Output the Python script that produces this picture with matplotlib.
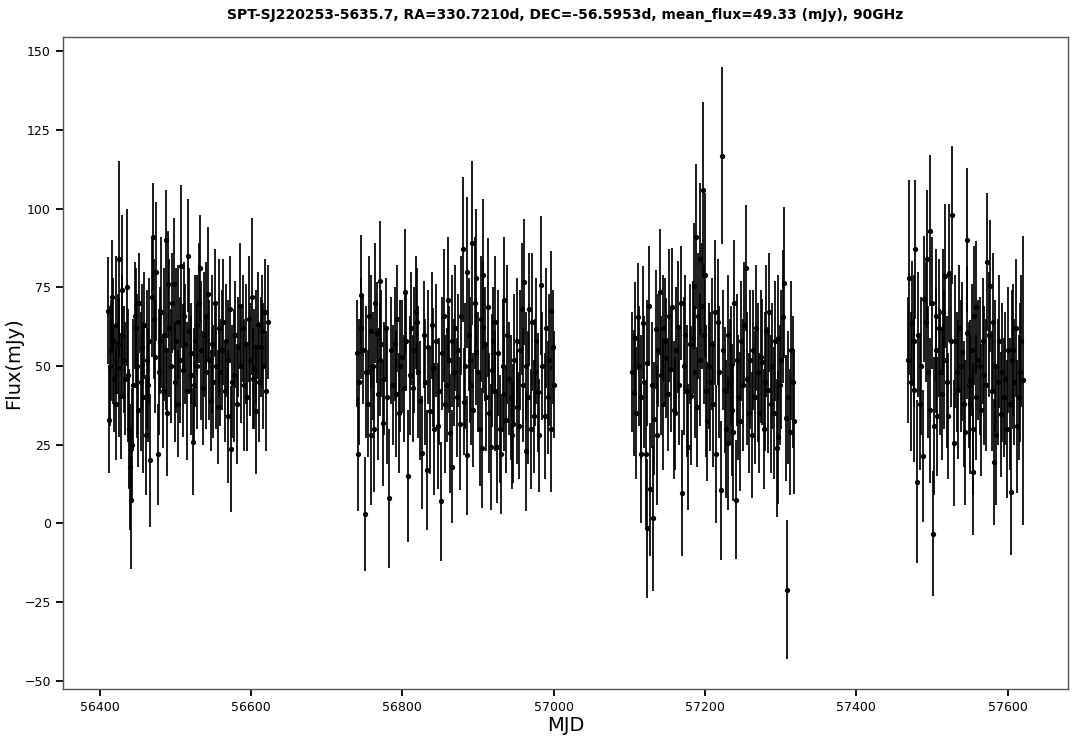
import matplotlib
matplotlib.use('Agg')
import matplotlib.pyplot as plt
import numpy as np

title = 'SPT-SJ220253-5635.7, RA=330.7210d, DEC=-56.5953d, mean_flux=49.33 (mJy), 90GHz'

# season 1
mjd1 = [56411, 56412, 56413, 56415, 56416, 56418, 56419, 56421, 56422, 56424,
        56425, 56426, 56428, 56429, 56430, 56432, 56434, 56436, 56437, 56439,
        56440, 56441, 56443, 56444, 56446, 56448, 56449, 56451, 56452, 56454,
        56456, 56457, 56459, 56461, 56462, 56464, 56465, 56467, 56469, 56471,
        56472, 56473, 56475, 56477, 56478, 56480, 56481, 56483, 56485, 56487,
        56488, 56489, 56490, 56492, 56494, 56496, 56498, 56499, 56501, 56503,
        56504, 56506, 56508, 56510, 56511, 56513, 56515, 56516, 56518, 56520,
        56521, 56523, 56524, 56526, 56528, 56529, 56531, 56532, 56534, 56536,
        56538, 56540, 56541, 56543, 56545, 56547, 56548, 56550, 56552, 56554,
        56556, 56557, 56559, 56561, 56563, 56565, 56567, 56569, 56570, 56572,
        56574, 56575, 56577, 56579, 56581, 56583, 56585, 56587, 56589, 56591,
        56593, 56595, 56597, 56599, 56601, 56603, 56604, 56606, 56607, 56609,
        56611, 56613, 56614, 56616, 56618, 56620, 56622]
flux1 = [67.6, 33, 50, 55, 72, 58, 46, 63, 38, 57,
         84, 49.5, 40.6, 74, 60, 52, 46, 75, 47, 30,
         18, 7.6, 25, 44, 66, 62, 50, 36, 70, 45,
         56, 40, 63, 28, 52, 44, 58, 20, 72, 91,
         65, 53, 80, 22, 48, 58, 67, 42, 60, 90,
         55, 35, 76, 62, 50, 70, 76, 45, 58, 38,
         64, 52, 81.6, 48.6, 66, 57, 42, 85, 61, 54,
         47, 26, 44, 58, 63, 50, 70, 81, 55, 43,
         60, 48, 66, 73, 52, 39, 57, 45, 70, 50,
         37, 62, 48, 55, 64, 42, 58, 34, 52, 68,
         23.5, 45, 47, 60, 38, 56, 69, 50, 62, 44,
         57, 40, 65, 52, 72, 46, 49, 35.6, 56, 63,
         45, 56, 61, 50, 67, 42, 64]
err1 = [17, 17, 19, 16, 18, 20, 17, 22, 18, 16,
        31, 22, 20, 24, 19, 17, 18, 25, 21, 19,
        20, 22, 18, 21, 17, 19, 23, 18, 16, 22,
        20, 24, 17, 19, 22, 18, 20, 21, 19, 17,
        19, 18, 22, 16, 20, 17, 24, 18, 21, 16,
        19, 20, 17, 22, 18, 16, 21, 19, 23, 17,
        18, 20, 26, 21, 17, 19, 22, 18, 20, 16,
        19, 17, 18, 21, 16, 20, 19, 17, 22, 18,
        20, 18, 17, 21, 19, 16, 22, 18, 17, 20,
        18, 22, 17, 19, 20, 16, 18, 21, 19, 17,
        20, 18, 21, 17, 19, 16, 20, 18, 17, 21,
        19, 17, 20, 18, 25, 16, 19, 20, 18, 17,
        19, 16, 18, 20, 17, 19, 18]

# season 2
mjd2 = [56740, 56741, 56743, 56745, 56746, 56748, 56750, 56752, 56754, 56756,
        56758, 56759, 56761, 56762, 56764, 56766, 56768, 56770, 56771, 56772,
        56774, 56776, 56778, 56780, 56783, 56785, 56787, 56790, 56791, 56793,
        56795, 56797, 56800, 56802, 56803, 56805, 56808, 56810, 56812, 56814,
        56816, 56818, 56819, 56821, 56823, 56826, 56828, 56830, 56833, 56834,
        56837, 56839, 56840, 56842, 56844, 56847, 56849, 56851, 56853, 56855,
        56857, 56859, 56860, 56862, 56863, 56865, 56866, 56868, 56870, 56872,
        56874, 56876, 56878, 56880, 56882, 56883, 56885, 56886, 56888, 56889,
        56891, 56892, 56894, 56896, 56897, 56898, 56900, 56902, 56904, 56905,
        56906, 56907, 56909, 56911, 56913, 56915, 56917, 56918, 56920, 56922,
        56923, 56925, 56927, 56929, 56931, 56933, 56934, 56935, 56937, 56939,
        56941, 56943, 56945, 56946, 56948, 56951, 56952, 56954, 56956, 56958,
        56960, 56961, 56963, 56964, 56966, 56968, 56970, 56972, 56974, 56976,
        56977, 56979, 56981, 56983, 56985, 56988, 56990, 56992, 56994, 56996,
        56997, 56999, 57000]
flux2 = [54, 22, 45, 62, 72.7, 55, 3, 48, 38, 66,
         61, 28, 50, 30, 70, 60.6, 41, 52, 77, 57,
         32, 46, 62, 40, 8, 55, 44, 57, 41, 65,
         35, 50, 53, 43, 73.6, 58, 15, 47, 62, 43,
         55, 67, 64, 48, 39, 22.5, 60, 45, 17, 56,
         35.6, 63, 49.5, 30, 58, 31, 42, 7, 54, 66,
         38, 44, 71, 52, 28.6, 58, 18, 48, 62, 40,
         55, 31.7, 66, 87, 38.7, 50, 21.6, 79.7, 60, 52,
         44, 89, 36, 70, 54.6, 78, 48, 30, 65, 24,
         62.5, 79, 57, 40, 68.6, 35, 24.4, 48.6, 58, 64,
         42, 24.4, 54, 30, 22, 50, 41, 71, 33, 60,
         46, 40, 28, 31.7, 52, 37, 58, 31, 55, 68,
         44, 76.8, 23, 50, 40, 68, 30, 64, 34, 48,
         58, 41.6, 28, 75.6, 50, 34, 62, 40, 52, 67.6,
         30, 56, 44]
err2 = [17, 18, 20, 16, 19, 17, 18, 21, 17, 19,
        18, 22, 17, 20, 19, 16, 21, 18, 19, 17,
        20, 18, 16, 21, 22, 17, 19, 18, 20, 17,
        19, 21, 18, 17, 20, 16, 21, 19, 18, 17,
        20, 18, 17, 21, 19, 18, 17, 20, 19, 18,
        20, 17, 19, 21, 18, 20, 17, 19, 18, 21,
        22, 18, 20, 17, 19, 21, 18, 17, 20, 19,
        18, 21, 19, 23, 17, 20, 19, 24, 18, 20,
        19, 26, 18, 21, 17, 22, 19, 18, 20, 19,
        21, 24, 18, 17, 22, 19, 20, 18, 17, 21,
        19, 18, 20, 17, 19, 21, 18, 20, 17, 22,
        18, 20, 17, 19, 21, 18, 20, 17, 19, 21,
        18, 20, 19, 17, 21, 18, 19, 22, 18, 17,
        20, 19, 18, 22, 17, 20, 19, 18, 21, 19,
        20, 18, 17]

# season 3
mjd3 = [57104, 57106, 57107, 57109, 57111, 57113, 57115, 57116, 57118, 57120,
        57122, 57123, 57124, 57126, 57128, 57130, 57131, 57133, 57135, 57137,
        57138, 57140, 57142, 57144, 57145, 57147, 57149, 57151, 57153, 57155,
        57157, 57159, 57160, 57162, 57164, 57166, 57168, 57170, 57172, 57174,
        57176, 57178, 57180, 57182, 57184, 57185, 57187, 57188, 57189, 57191,
        57193, 57194, 57196, 57197, 57199, 57200, 57201, 57203, 57205, 57207,
        57209, 57211, 57213, 57215, 57217, 57219, 57221, 57223, 57224, 57226,
        57228, 57230, 57231, 57233, 57234, 57236, 57237, 57239, 57241, 57243,
        57244, 57246, 57248, 57250, 57252, 57254, 57256, 57258, 57260, 57262,
        57264, 57266, 57268, 57270, 57272, 57274, 57276, 57278, 57280, 57281,
        57283, 57285, 57287, 57289, 57291, 57293, 57295, 57296, 57297, 57299,
        57301, 57303, 57305, 57307, 57309, 57310, 57312, 57314, 57316, 57318]
flux3 = [48, 41.3, 58.8, 35, 65.7, 50, 40, 22.2, 63.8, 45,
         21.9, 51, -1.6, 69, 10.8, 44, 1.6, 33.3, 61.6, 28,
         55, 73.6, 47, 38, 62, 58, 52.5, 41, 66, 49,
         68.6, 36, 35, 55, 62.5, 44, 70, 9.8, 50, 60,
         42, 24.4, 57, 40.6, 59, 75.5, 48, 91, 37, 66,
         52, 84, 69, 106, 60, 79, 42, 32.4, 50, 45,
         57, 38, 67, 22, 64, 48, 10.5, 116.8, 55, 42.5,
         30, 60, 25.4, 45, 50, 36, 29, 70, 7.6, 52,
         40, 32.4, 58, 44, 63, 81, 46, 35, 52, 28,
         55, 40, 62, 48, 35, 53, 51.4, 30, 45, 61,
         42.5, 67, 38, 50, 35, 58, 24, 27.3, 59, 44,
         52, 65.7, 76.5, 33.6, -21, 40, 29, 55, 45, 32.4]
err3 = [19, 20, 18, 21, 17, 19, 20, 22, 18, 21,
        23, 20, 22, 19, 21, 20, 23, 18, 19, 22,
        18, 20, 19, 21, 17, 20, 19, 18, 21, 20,
        19, 22, 18, 20, 21, 19, 18, 20, 22, 19,
        21, 20, 19, 22, 18, 20, 21, 23, 19, 20,
        21, 24, 20, 28, 22, 26, 21, 19, 20, 22,
        21, 20, 23, 22, 20, 21, 22, 28, 19, 20,
        22, 19, 21, 20, 19, 21, 22, 20, 19, 21,
        20, 22, 19, 21, 20, 20, 21, 19, 22, 20,
        19, 21, 20, 22, 19, 21, 20, 19, 22, 21,
        20, 19, 22, 20, 21, 19, 22, 21, 20, 19,
        22, 21, 24, 20, 22, 21, 20, 22, 21, 23]

# season 4
mjd4 = [57469, 57470, 57472, 57474, 57476, 57477, 57478, 57480, 57482, 57484,
        57486, 57488, 57490, 57492, 57493, 57495, 57497, 57498, 57500, 57502,
        57503, 57505, 57506, 57507, 57509, 57511, 57513, 57515, 57516, 57518,
        57520, 57521, 57523, 57525, 57527, 57529, 57531, 57533, 57534, 57536,
        57538, 57540, 57542, 57544, 57546, 57547, 57549, 57550, 57551, 57553,
        57554, 57555, 57556, 57558, 57559, 57561, 57563, 57565, 57567, 57569,
        57571, 57573, 57575, 57577, 57579, 57581, 57582, 57584, 57585, 57587,
        57589, 57591, 57593, 57595, 57597, 57599, 57601, 57603, 57604, 57606,
        57607, 57609, 57611, 57613, 57615, 57616, 57618, 57620]
flux4 = [52, 78, 45, 63.5, 58, 42.5, 87, 13.3, 60, 38,
         50, 21.3, 71.4, 64, 84, 48, 36, 93, 70, -3.2,
         31, 55, 66, 34, 62, 48, 41, 67, 52, 78.6,
         45, 34, 79.6, 58, 98, 25.4, 57.8, 48, 42.5, 62,
         50, 54.6, 38, 29, 90, 60.6, 44, 37.8, 45.7, 55,
         16.2, 30, 66, 40, 68.6, 52, 50, 36, 58, 47,
         44, 83, 60, 75.5, 42, 64, 19.4, 50, 28, 45,
         57.8, 34.6, 48, 40, 46, 30, 55, 38, 10, 52,
         55, 44.8, 62, 30.8, 40, 48, 58, 45.4]
err4 = [20, 31, 22, 20, 21, 23, 22, 26, 20, 21,
        22, 21, 20, 19, 22, 21, 23, 24, 21, 20,
        22, 20, 21, 19, 22, 20, 21, 20, 22, 23,
        21, 20, 22, 21, 22, 20, 21, 19, 22, 20,
        21, 22, 20, 23, 23, 21, 20, 22, 19, 21,
        20, 21, 22, 20, 21, 19, 22, 21, 20, 22,
        21, 22, 20, 21, 19, 22, 20, 21, 22, 20,
        21, 20, 22, 19, 21, 22, 20, 21, 20, 22,
        21, 20, 22, 21, 20, 22, 21, 46]

mjd = np.array(mjd1 + mjd2 + mjd3 + mjd4, dtype=float)
flux = np.array(flux1 + flux2 + flux3 + flux4, dtype=float)
err = np.array(err1 + err2 + err3 + err4, dtype=float)

fig = plt.figure(figsize=(10.81, 7.39), dpi=100)
ax = fig.add_axes([0.058, 0.068, 0.930, 0.882])
ax.errorbar(mjd, flux, yerr=err, fmt='o', color='black', ecolor='black',
            elinewidth=1.25, markersize=2.8, capsize=0)
ax.set_xlim(56351, 57680)
ax.set_ylim(-52.5, 154.5)
ax.set_xticks([56400, 56600, 56800, 57000, 57200, 57400, 57600])
ax.set_yticks([-50, -25, 0, 25, 50, 75, 100, 125, 150])
ax.set_xlabel('MJD', fontsize=14, labelpad=2)
ax.set_ylabel('Flux(mJy)', fontsize=14, labelpad=1)
ax.set_title(title, fontsize=10, fontweight='bold', pad=13)
ax.tick_params(axis='both', direction='out', length=5, width=1.3, labelsize=9,
               top=False, right=False)
for s in ax.spines.values():
    s.set_color('#555555')
    s.set_linewidth(1.0)

plt.savefig('out.png', dpi=100)
